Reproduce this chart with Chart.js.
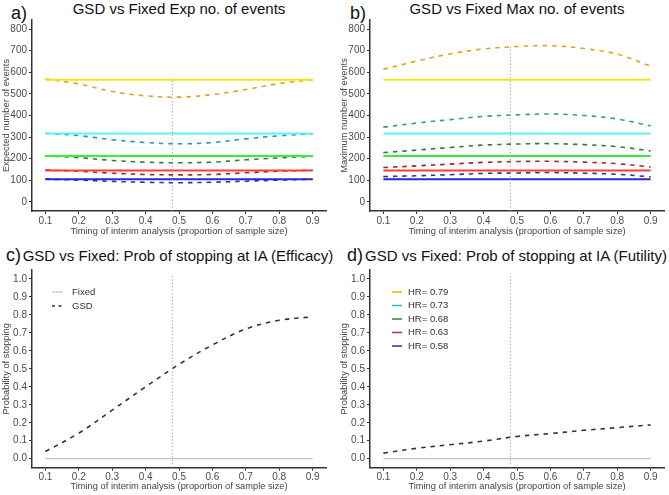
<!DOCTYPE html>
<html><head><meta charset="utf-8">
<script src="https://cdn.jsdelivr.net/npm/chart.js@4.4.1/dist/chart.umd.min.js"></script>
<style>
body{margin:0;background:#fff;width:669px;height:495px;position:relative;overflow:hidden;font-family:"Liberation Sans",Arial,sans-serif;}
canvas{position:absolute;}
.ttl{position:absolute;font-size:15px;color:#111;white-space:nowrap;transform:translateX(-50%);line-height:1;}
.lab{position:absolute;font-size:18px;color:#111;line-height:1;}
</style></head><body>
<div class="lab" style="left:11px;top:4px">a)</div>
<div class="ttl" style="left:179px;top:1px">GSD vs Fixed Exp no. of events</div>
<div class="lab" style="left:350px;top:4px">b)</div>
<div class="ttl" style="left:517px;top:1px">GSD vs Fixed Max no. of events</div>
<div class="lab" style="left:6px;top:246px">c)</div>
<div class="ttl" style="left:178px;top:248px">GSD vs Fixed: Prob of stopping at IA (Efficacy)</div>
<div class="lab" style="left:347px;top:246px">d)</div>
<div class="ttl" style="left:516px;top:248px">GSD vs Fixed: Prob of stopping at IA (Futility)</div>

<canvas id="ca" width="334" height="245" style="left:0;top:0"></canvas>
<canvas id="cb" width="335" height="245" style="left:334px;top:0"></canvas>
<canvas id="cc" width="334" height="250" style="left:0;top:245px"></canvas>
<canvas id="cd" width="335" height="250" style="left:334px;top:245px"></canvas>

<script>
// ---------- data ----------
const timing = [0.1, 0.2, 0.3, 0.4, 0.5, 0.6, 0.7, 0.8, 0.9];
const xTicks = [0.1, 0.2, 0.3, 0.4, 0.5, 0.6, 0.7, 0.8, 0.9];
const yTicksEvents = [0, 100, 200, 300, 400, 500, 600, 700, 800];
const yTicksProb = [0, 0.1, 0.2, 0.3, 0.4, 0.5, 0.6, 0.7, 0.8, 0.9, 1.0];
const iaTiming = 0.48;

const hrLabels = ['HR= 0.79', 'HR= 0.73', 'HR= 0.68', 'HR= 0.63', 'HR= 0.58'];
const fixedEvents = [565, 317, 212, 146, 105];

// Expected number of events (GSD)
const expGSD079 = [569, 546, 511, 491, 485, 497, 520, 548, 565];
const expGSD073 = [318, 307, 288, 275, 269, 275, 292, 306, 315];
const expGSD068 = [213, 205, 192, 184, 181, 184, 195, 204, 211];
const expGSD063 = [148, 142, 133, 127, 125, 127, 135, 142, 147];
const expGSD058 = [106, 101, 95, 91, 89, 91, 96, 101, 105];

// Maximum number of events (GSD)
const maxGSD079 = [614, 652, 685, 708, 719, 723, 710, 684, 628];
const maxGSD073 = [346, 365, 381, 396, 403, 407, 400, 384, 352];
const maxGSD068 = [228, 240, 252, 263, 268, 270, 265, 256, 236];
const maxGSD063 = [159, 167, 175, 183, 187, 188, 184, 177, 162];
const maxGSD058 = [117, 121, 126, 132, 134, 136, 133, 128, 116];

// Probability of stopping at IA
const probEffGSD = [0.04, 0.142, 0.27, 0.40, 0.525, 0.633, 0.722, 0.77, 0.79];
const probFutGSD = [0.031, 0.058, 0.078, 0.098, 0.124, 0.14, 0.158, 0.173, 0.188];
const probFixed = [0, 0];

// ---------- styles ----------
const fixedColors = ['#F2E418', '#5CF2F2', '#35EE35', '#FF3C3C', '#2A2ACF'];
const gsdColors = ['#D9A81E', '#2A9E9E', '#2E7D32', '#A52A2A', '#2F2FA8'];
const legendColors = ['#E6B800', '#30B5B5', '#2E8B2E', '#C83232', '#2A2AAA'];
const FONT = '"Liberation Sans", Arial, sans-serif';

const pts = (xs, ys) => xs.map((x, i) => ({x: x, y: ys[i]}));
const hline = (v) => [{x: timing[0], y: v}, {x: timing[timing.length - 1], y: v}];

function dashed(data, color, w) {
  return {data: data, borderColor: color, borderWidth: w || 1.6, borderDash: [4.5, 5],
          pointRadius: 0, fill: false, tension: 0.35};
}
function solid(data, color, w) {
  return {data: data, borderColor: color, borderWidth: w || 2, pointRadius: 0, fill: false, tension: 0};
}
function vline(yMin, yTop) {
  return {data: [{x: iaTiming, y: yMin}, {x: iaTiming, y: yTop}], borderColor: '#9a9a9a',
          borderWidth: 1, borderDash: [1.2, 2.2], pointRadius: 0, fill: false};
}

const legendPlugin = {
  id: 'insetLegend',
  afterDraw(chart, args, opts) {
    if (!opts || !opts.items) return;
    const ctx = chart.ctx;
    ctx.save();
    ctx.font = '9.5px ' + FONT;
    ctx.textBaseline = 'middle';
    opts.items.forEach((it, i) => {
      const y = opts.y + i * opts.dy;
      ctx.strokeStyle = it.color; ctx.lineWidth = it.width || 1.3;
      ctx.setLineDash(it.dash || []);
      ctx.beginPath(); ctx.moveTo(opts.x, y); ctx.lineTo(opts.x + opts.len, y); ctx.stroke();
      ctx.setLineDash([]);
      ctx.fillStyle = '#333';
      ctx.fillText(it.text, opts.textX, y);
    });
    ctx.restore();
  }
};

function makeChart(id, o) {
  new Chart(document.getElementById(id), {
    type: 'line',
    data: {datasets: o.datasets},
    plugins: [legendPlugin],
    options: {
      responsive: false, animation: false, devicePixelRatio: 1,
      layout: {padding: {top: o.padTop, right: o.padRight, left: 0, bottom: 0}},
      plugins: {legend: {display: false}, tooltip: {enabled: false}, title: {display: false},
                insetLegend: o.legend || {}},
      scales: {
        x: {
          type: 'linear', min: 0.06, max: 0.94,
          afterBuildTicks: (s) => { s.ticks = xTicks.map(v => ({value: v})); },
          afterFit: (s) => { s.height = o.xH; },
          ticks: {callback: (v) => v.toFixed(1), color: '#4a4a4a', font: {size: 10, family: FONT}, padding: 1, maxRotation: 0},
          grid: {display: true, drawOnChartArea: false, drawTicks: true, tickLength: 3, color: '#333', lineWidth: 1},
          border: {display: true, color: '#333', width: 1.5},
          title: {display: true, text: 'Timing of interim analysis (proportion of sample size)', color: '#444',
                  font: {size: 9.3, family: FONT}, padding: {top: 0, bottom: o.xTitlePad}}
        },
        y: {
          type: 'linear', min: o.yMin, max: o.yMax,
          afterBuildTicks: (s) => { s.ticks = o.yTicks.map(v => ({value: v})); },
          afterFit: (s) => { s.width = o.yW; },
          ticks: {callback: o.yFmt, color: '#4a4a4a', font: {size: 10, family: FONT}, padding: 2},
          grid: {display: true, drawOnChartArea: false, drawTicks: true, tickLength: 3, color: '#333', lineWidth: 1},
          border: {display: true, color: '#333', width: 1.5},
          title: {display: true, text: o.yTitle, color: '#444',
                  font: {size: 9.3, family: FONT}, padding: {top: o.yTitlePad, bottom: 0}}
        }
      }
    }
  });
}

const intFmt = (v) => String(Math.round(v));
const probFmt = (v) => v.toFixed(1);

// a) expected events
const expSeries = [expGSD079, expGSD073, expGSD068, expGSD063, expGSD058];
const dsA = [vline(-42, 572)];
expSeries.forEach((s, i) => { dsA.push(solid(hline(fixedEvents[i]), fixedColors[i])); });
expSeries.forEach((s, i) => { dsA.push(dashed(pts(timing, s), gsdColors[i])); });
makeChart('ca', {datasets: dsA, padTop: 20, padRight: 8, xH: 34, yW: 32, xTitlePad: 8.4, yTitlePad: 0.4,
  yMin: -42, yMax: 842, yTicks: yTicksEvents, yFmt: intFmt, yTitle: 'Expected number of events'});

// b) max events
const maxSeries = [maxGSD079, maxGSD073, maxGSD068, maxGSD063, maxGSD058];
const dsB = [vline(-42, 720)];
maxSeries.forEach((s, i) => { dsB.push(solid(hline(fixedEvents[i]), fixedColors[i])); });
maxSeries.forEach((s, i) => { dsB.push(dashed(pts(timing, s), gsdColors[i])); });
makeChart('cb', {datasets: dsB, padTop: 20, padRight: 5, xH: 34, yW: 36, xTitlePad: 8.4, yTitlePad: 4.4,
  yMin: -42, yMax: 842, yTicks: yTicksEvents, yFmt: intFmt, yTitle: 'Maximum number of events'});

// c) efficacy
const fixedC = solid(hline(probFixed[0]), '#c4c4c4', 1.2);
const gsdC = dashed(pts(timing, probEffGSD), '#333333', 1.6);
makeChart('cc', {datasets: [vline(-0.05, 1.02), fixedC, gsdC], padTop: 25, padRight: 8, xH: 27.3, yW: 32,
  xTitlePad: 3.4, yTitlePad: 0.4, yMin: -0.05, yMax: 1.05, yTicks: yTicksProb, yFmt: probFmt,
  yTitle: 'Probability of stopping',
  legend: {x: 52, len: 11, textX: 72, y: 47, dy: 14, items: [
    {text: 'Fixed', color: '#c4c4c4', width: 1.2},
    {text: 'GSD', color: '#333333', width: 1.5, dash: [3, 3.5]}]}});

// d) futility
const fixedD = solid(hline(probFixed[1]), '#c4c4c4', 1.2);
const gsdD = dashed(pts(timing, probFutGSD), '#333333', 1.6);
makeChart('cd', {datasets: [vline(-0.05, 1.03), fixedD, gsdD], padTop: 25, padRight: 5, xH: 27.3, yW: 36,
  xTitlePad: 3.4, yTitlePad: 4.4, yMin: -0.05, yMax: 1.05, yTicks: yTicksProb, yFmt: probFmt,
  yTitle: 'Probability of stopping',
  legend: {x: 58, len: 10, textX: 74, y: 47, dy: 13.5,
    items: hrLabels.map((t, i) => ({text: t, color: legendColors[i], width: 1.5}))}});
</script>
</body></html>
